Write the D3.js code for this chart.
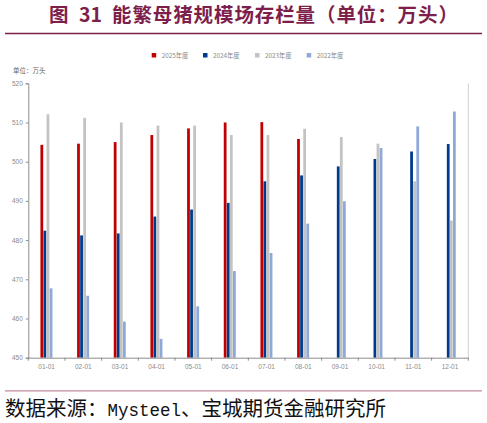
<!DOCTYPE html>
<html><head><meta charset="utf-8">
<script src="https://cdn.jsdelivr.net/npm/d3@7"></script>
<style>body{margin:0;background:#fff}svg{display:block}</style>
</head><body>
<svg id="c" width="487" height="423"></svg>
<script>
const categories = ["01-01","02-01","03-01","04-01","05-01","06-01","07-01","08-01","09-01","10-01","11-01","12-01"];
const seriesNames = ["2025年度","2024年度","2023年度","2022年度"];
const s2025 = [504.3,504.6,505.0,506.8,508.5,510.0,510.1,505.8,null,null,null,null];
const s2024 = [482.4,481.2,481.7,486.0,487.8,489.5,495.0,496.5,498.8,500.7,502.6,504.5];
const s2023 = [512.1,511.2,510.0,509.2,509.2,506.8,506.8,508.4,506.3,504.6,495.0,485.0];
const s2022 = [467.7,465.8,459.2,454.8,463.1,472.1,476.7,484.2,489.9,503.5,509.0,512.8];
const yTicks = [450,460,470,480,490,500,510,520];
const colors = ["#C00000","#003A8C","#C3C3C3","#8EA9D8"];
const seriesValues = [s2025,s2024,s2023,s2022];

const svg = d3.select("#c");
const m = {l:28.3, r:468.3, t:83.3, b:357.7};

// Title
const tt = svg.append("text").attr("y",22)
  .attr("font-family","Noto Sans CJK SC").attr("font-weight","bold").attr("font-size",19.5)
  .attr("fill","#7E1E4B");
tt.append("tspan").attr("x",49).text("图");
tt.append("tspan").attr("x",79).text("31");
tt.append("tspan").attr("x",112).attr("letter-spacing",0.9).text("能繁母猪规模场存栏量（单位：万头）");
svg.append("line").attr("x1",5).attr("x2",482).attr("y1",33.5).attr("y2",33.5)
  .attr("stroke","#7E1E4B").attr("stroke-width",1.5);

// Source
svg.append("line").attr("x1",5).attr("x2",482).attr("y1",390.8).attr("y2",390.8)
  .attr("stroke","#C58A9C").attr("stroke-width",1.3);
const src = svg.append("text").attr("x",5).attr("y",416)
  .attr("font-family","Noto Sans CJK SC").attr("font-size",20.5).attr("fill","#111");
src.append("tspan").text("数据来源：");
src.append("tspan").attr("font-family","Liberation Mono").attr("font-size",17.5).text("Mysteel");
src.append("tspan").text("、宝城期货金融研究所");

// Scales
const x0 = d3.scaleBand().domain(categories).range([m.l, m.r]).padding(0);
const bw = x0.bandwidth();
const x1 = d3.scaleBand().domain(seriesNames).range([bw/2-6.2, bw/2+5.8]).paddingInner(0.1);
const y = d3.scaleLinear().domain([450,520]).range([m.b, m.t]);

// Right frame line
svg.append("line").attr("x1",m.r).attr("x2",m.r).attr("y1",m.t).attr("y2",m.b)
  .attr("stroke","#D0D0D0").attr("stroke-width",1);

// Bars
seriesNames.forEach((name,si)=>{
  const vals = seriesValues[si];
  svg.append("g").selectAll("rect")
    .data(categories.map((c,i)=>({c, v: vals[i]})).filter(d=>d.v!=null))
    .join("rect")
    .attr("x", d=>x0(d.c)+x1(name))
    .attr("width", x1.bandwidth())
    .attr("y", d=>y(d.v))
    .attr("height", d=>y(450)-y(d.v))
    .attr("fill", colors[si]);
});

// Y axis
const ya = svg.append("g").attr("transform",`translate(${m.l},0)`)
  .call(d3.axisLeft(y).tickValues(yTicks).tickSize(2.5).tickPadding(3).tickFormat(d3.format("d")));
ya.select(".domain").attr("stroke","#8C8C8C");
ya.selectAll(".tick line").attr("stroke","#8C8C8C");
ya.selectAll("text").attr("font-family","Liberation Sans").attr("font-size",6.5).attr("fill","#8A8A8A");

// X axis
const xa = svg.append("g").attr("transform",`translate(0,${m.b})`)
  .call(d3.axisBottom(x0).tickSize(0).tickPadding(7));
xa.select(".domain").attr("stroke","#8C8C8C");
xa.selectAll("text").attr("font-family","Liberation Sans").attr("font-size",6.5).attr("fill","#8A8A8A");
svg.append("g").selectAll("line").data(d3.range(categories.length+1)).join("line")
  .attr("x1",i=>m.l+i*bw).attr("x2",i=>m.l+i*bw).attr("y1",m.b).attr("y2",m.b+3)
  .attr("stroke","#8C8C8C");

// Unit label
svg.append("text").attr("x",13).attr("y",72.5).attr("font-family","Noto Sans CJK SC")
  .attr("font-size",6.5).attr("fill","#666").text("单位：万头");

// Legend
const legX = [151.7, 203, 255, 306.7];
const lg = svg.append("g").selectAll("g").data(seriesNames).join("g")
  .attr("transform",(d,i)=>`translate(${legX[i]},53)`);
lg.append("rect").attr("width",4.5).attr("height",4.5).attr("fill",(d,i)=>colors[i]);
lg.append("text").attr("x",10).attr("y",4.5).attr("font-family","Noto Sans CJK SC")
  .attr("font-size",6.3).attr("fill","#8A8A8A").text(d=>d);
</script>
</body></html>
